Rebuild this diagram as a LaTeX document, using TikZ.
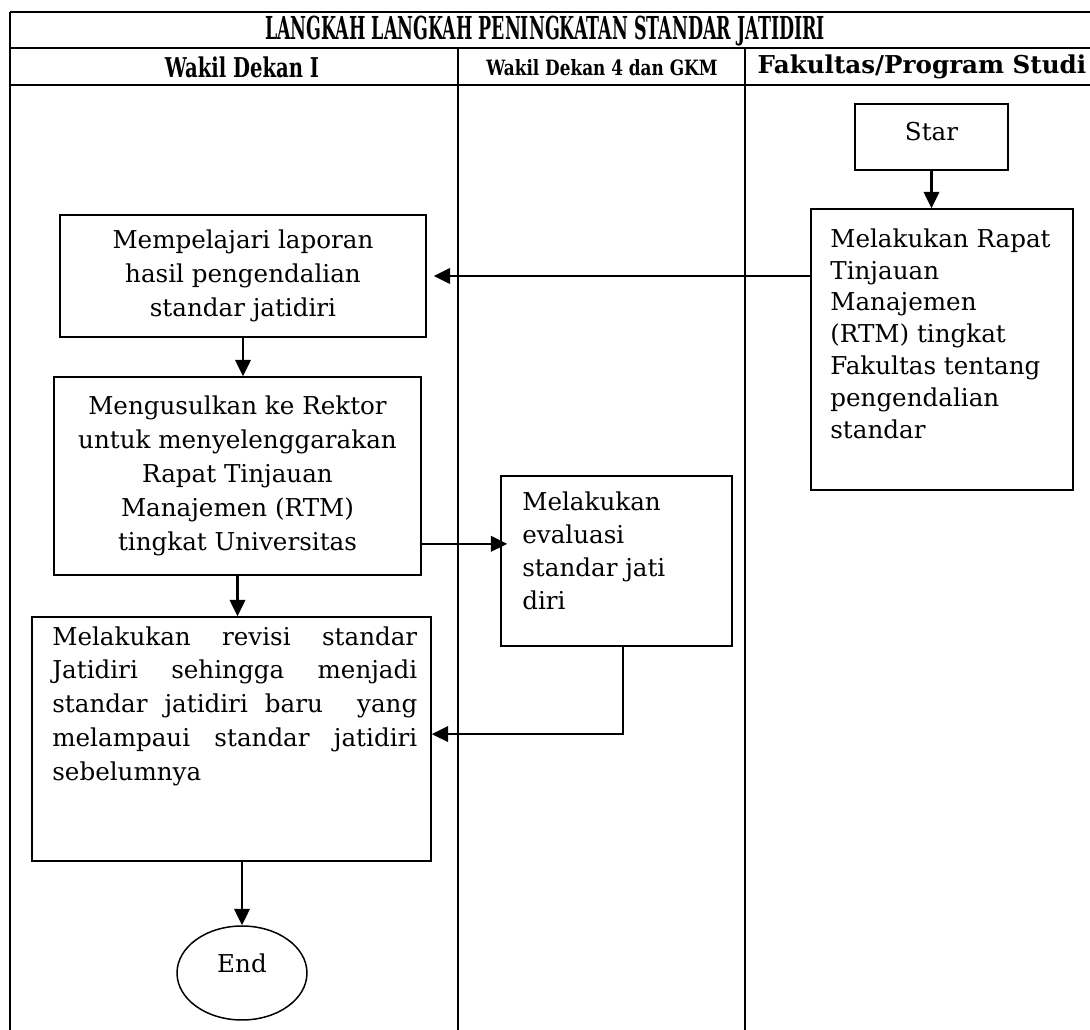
\documentclass[tikz,border=0pt]{standalone}
\usepackage{fontspec}
\setmainfont{DejaVu Serif}
\newfontfamily\headfont[FakeStretch=0.55]{DejaVu Serif}
\newfontfamily\lanefont[FakeStretch=0.72]{DejaVu Serif}
\newfontfamily\smalllanefont[FakeStretch=0.8]{DejaVu Serif}
\usepackage{tikz}
\usetikzlibrary{arrows.meta,calc,positioning,shapes.geometric}
\newcommand{\fullline}[1]{\makebox[7.3cm][s]{#1}}
\tikzset{%
	block/.style    = {draw, rectangle, line width=0.85pt, inner sep=0pt}, % Box
	terminal/.style = {draw, ellipse, line width=0.85pt, inner sep=0pt}, % End
	boxtext/.style  = {inner sep=0pt, anchor=north west, align=left}, % Text in a box
	lane/.style     = {line width=1.1pt}, % Table lines
	arrow/.style    = {line width=1.4pt, -{Triangle[length=3.3mm,width=3.1mm]}},
}

\begin{document}
\begin{tikzpicture}[x=0.02cm,y=-0.02cm,font=\fontsize{14}{19.3}\selectfont]
	\useasboundingbox (0,0) rectangle (1090,1030);
	% table
	\draw[lane] (10,12) -- (1090,12);
	\draw[lane] (10,48) -- (1090,48);
	\draw[lane] (10,85) -- (1090,85);
	\draw[lane] (10,12) -- (10,1030);
	\draw[lane] (458,48) -- (458,1030);
	\draw[lane] (745,48) -- (745,1030);
	\node (title) at (545,31) {\headfont\bfseries\fontsize{18}{20}\selectfont LANGKAH LANGKAH PENINGKATAN STANDAR JATIDIRI};
	\node (wd1) at (242,67) {\lanefont\bfseries\fontsize{15.5}{16}\selectfont Wakil Dekan I};
	\node (wd4) at (602,68) {\smalllanefont\bfseries\fontsize{12}{12}\selectfont Wakil Dekan 4 dan GKM};
	\node (fak) at (922,67) {\bfseries\fontsize{14}{16}\selectfont Fakultas/Program Studi};
	% boxes
	\node [block, minimum width=3.06cm, minimum height=1.32cm, text depth=0.24cm] (star) at (931.5,137) {Star};
	\node [block, minimum width=5.24cm, minimum height=5.62cm] (rapat) at (942,349.5) {};
	\node [boxtext, font=\fontsize{14}{18.2}\selectfont] (rapattext) at (830,228) {Melakukan Rapat\\Tinjauan\\Manajemen\\(RTM) tingkat\\Fakultas tentang\\pengendalian\\standar};
	\node [block, align=center, minimum width=7.32cm, minimum height=2.44cm] (pelajari) at (243,276) {Mempelajari laporan\\hasil pengendalian\\standar jatidiri};
	\node [block, align=center, minimum width=7.34cm, minimum height=3.96cm] (usul) at (237.5,476) {Mengusulkan ke Rektor\\untuk menyelenggarakan\\Rapat Tinjauan\\Manajemen (RTM)\\tingkat Universitas};
	\node [block, minimum width=4.62cm, minimum height=3.4cm] (evaluasi) at (616.5,561) {};
	\node [boxtext, font=\fontsize{14}{18.8}\selectfont] (evaltext) at (522,491) {Melakukan\\evaluasi\\standar jati\\diri};
	\node [block, minimum width=7.98cm, minimum height=4.88cm] (revisi) at (231.5,739) {};
	\node [boxtext] (revtext) at (52,626) {\fullline{Melakukan revisi standar}\\\fullline{Jatidiri sehingga menjadi}\\\fullline{standar jatidiri baru~ yang}\\\fullline{melampaui standar jatidiri}\\sebelumnya};
	\node [terminal, minimum width=2.6cm, minimum height=1.88cm, text depth=0.4cm] (end) at (242,973) {End};
	% connectors
	\coordinate (evalin) at ($(evaluasi.north west)!0.4!(evaluasi.south west)$);
	\coordinate (revin) at ($(revisi.north east)!0.48!(revisi.south east)$);
	\draw[arrow] (star.south) -- (rapat.north -| star.south);
	\draw[arrow, shorten >=0.14cm] (pelajari.east -| rapat.west) -- (pelajari.east);
	\draw[arrow] (pelajari.south) -- (pelajari.south |- usul.north);
	\draw[arrow, shorten >=-0.14cm] (evalin -| usul.east) -- (evalin);
	\draw[arrow] ([xshift=0.13cm]evaluasi.south) |- (revin);
	\draw[arrow] (usul.south) -- (usul.south |- revisi.north);
	\draw[arrow] (end.north |- revisi.south) -- (end.north);
\end{tikzpicture}
\end{document}
